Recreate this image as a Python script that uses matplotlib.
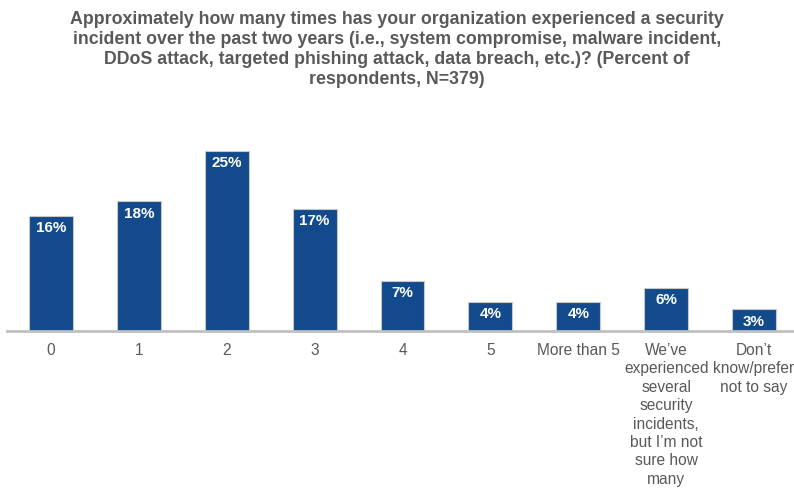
import matplotlib.pyplot as plt

categories = ["0", "1", "2", "3", "4", "5", "More than 5",
              "We\u2019ve\nexperienced\nseveral\nsecurity\nincidents,\nbut I\u2019m not\nsure how\nmany",
              "Don\u2019t\nknow/prefer\nnot to say"]
values = [16, 18, 25, 17, 7, 4, 4, 6, 3]
title = ("Approximately how many times has your organization experienced a security\n"
         "incident over the past two years (i.e., system compromise, malware incident,\n"
         "DDoS attack, targeted phishing attack, data breach, etc.)? (Percent of\n"
         "respondents, N=379)")

bar_color = "#124a8c"
grey = "#595959"

fig = plt.figure(figsize=(7.94, 4.89), dpi=100)
ax = fig.add_axes([7 / 794, 157 / 489, 791 / 794, 180 / 489])

x = list(range(len(categories)))
bars = ax.bar(x, values, width=0.5, color=bar_color, edgecolor="#c8c8c8", linewidth=0.8)
for xi, v in zip(x, values):
    ax.annotate(f"{v}%", (xi, v), xytext=(0, -3), textcoords="offset points",
                ha="center", va="top", color="white", fontweight="bold",
                fontsize=11, family=["Liberation Sans", "DejaVu Sans"])

ax.set_xlim(-0.5, len(categories) - 0.5)
ax.set_ylim(0, 25)
ax.set_yticks([])
for s in ["top", "right", "left"]:
    ax.spines[s].set_visible(False)
ax.spines["bottom"].set_color("#c0c0c0")
ax.spines["bottom"].set_linewidth(2)
ax.set_xticks(x)
ax.set_xticklabels(categories, fontsize=11.2, color=grey, linespacing=1.28,
                   family=["Liberation Sans", "DejaVu Sans"])
ax.tick_params(axis="x", length=0, pad=8)

fig.text(0.5, 0.978, title, ha="center", va="top", fontsize=12.8, fontweight="bold",
         color=grey, linespacing=1.23,
         family=["Liberation Sans Narrow", "Liberation Sans", "DejaVu Sans"])

fig.savefig("out.png", dpi=100)
